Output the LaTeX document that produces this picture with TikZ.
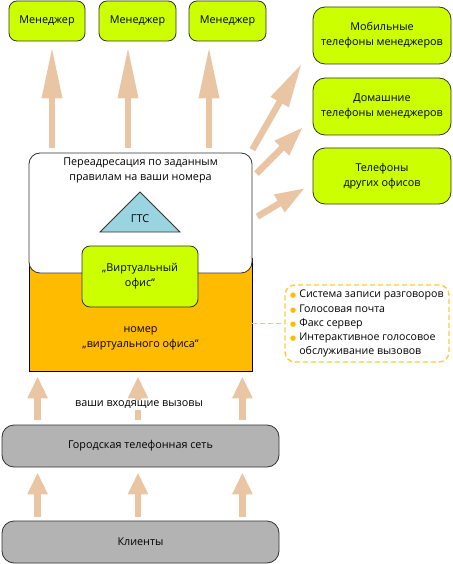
\documentclass[tikz,border=0pt]{standalone}
\usepackage{fontspec}
\setmainfont{Open Sans}
\newfontfamily\symfont{DejaVu Sans}
\usetikzlibrary{arrows.meta,calc}

\definecolor{limec}{RGB}{204,255,0}
\definecolor{orangec}{RGB}{255,187,0}
\definecolor{bluec}{RGB}{153,212,224}
\definecolor{grayc}{RGB}{179,179,179}
\definecolor{arrowc}{RGB}{234,197,163}
\definecolor{dashc}{RGB}{255,204,51}

\newcommand{\orangedot}{\textcolor{orangec}{\symfont\fontsize{7}{7}\selectfont ●}}

\tikzset{
	box/.style={draw=black!80, line width=0.8pt, rounded corners=8pt, align=center, inner sep=0pt},
	limebox/.style={box, fill=limec},
	graybox/.style={box, fill=grayc, rounded corners=12pt, minimum width=277pt, minimum height=42pt},
	bigarrow/.style={draw=arrowc, line width=6.5pt, -{Triangle[length=#1, width=19pt]}},
	dashline/.style={draw=dashc, line width=1.4pt, dash pattern=on 5pt off 3pt},
	every node/.style={font=\fontsize{10.8}{15}\selectfont}
}

\begin{document}
\begin{tikzpicture}[x=1pt, y=-1pt]
	\useasboundingbox (0,0) rectangle (452,564);

	% Менеджеры
	\node[limebox, minimum width=76pt, minimum height=40pt] (mgr1) at (47,21) {Менеджер};
	\node[limebox, minimum width=77pt, minimum height=40pt] (mgr2) at (137.5,21) {Менеджер};
	\node[limebox, minimum width=77pt, minimum height=40pt] (mgr3) at (227.5,21) {Менеджер};

	% Телефоны справа
	\node[limebox, rounded corners=12pt, minimum width=138pt, minimum height=57pt] (mob) at (382,35.5) {Мобильные\\телефоны менеджеров};
	\node[limebox, rounded corners=12pt, minimum width=138pt, minimum height=57pt] (home) at (382,106.5) {Домашние\\телефоны менеджеров};
	\node[limebox, rounded corners=12pt, minimum width=138pt, minimum height=56pt] (other) at (382,176) {Телефоны\\других офисов};

	% Виртуальный офис
	\node[draw=black, line width=0.8pt, fill=orangec, minimum width=223pt, minimum height=113pt] (vnum) at (140.5,314.5) {};
	\node[box, fill=white, rounded corners=11pt, minimum width=223pt, minimum height=120pt] (fwd) at (140.5,213) {};
	\node[align=center] (fwdtext) at (140.5,170.5) {Переадресация по заданным\\правилам на ваши номера};
	\draw[draw=black!80, line width=0.8pt, fill=bluec] (100,232) -- (140,192) -- (180,232) -- cycle;
	\node (gts) at (140,219) {ГТС};
	\node[limebox, minimum width=116pt, minimum height=61pt] (vo) at (140,276.5) {„Виртуальный\\офис“};
	\node[align=center] (vnumtext) at (140.5,338) {номер\\„виртуального офиса“};

	% Дополнительные услуги
	\node[dashline, rounded corners=10pt, minimum width=164pt, minimum height=77pt, inner sep=0pt] (extras) at (367,323.5) {};
	\node[anchor=west, inner sep=0pt, font=\fontsize{10.6}{14.3}\selectfont] (extratext) at (290,323.5)
		{\begin{tabular}{@{}l@{\hspace{3pt}}l@{}}
			\orangedot & Система записи разговоров\\
			\orangedot & Голосовая почта\\
			\orangedot & Факс сервер\\
			\orangedot & Интерактивное голосовое\\
			& обслуживание вызовов
		\end{tabular}};
	\draw[dashline] (vnum.east |- extras.west) -- (extras.west);

	% Сеть и клиенты
	\node[graybox] (city) at (140.5,446) {Городская телефонная сеть};
	\node[graybox] (clients) at (140.5,542) {Клиенты};

	% Стрелки вверх
	\draw[bigarrow=52pt, shorten <=5pt, shorten >=5pt] ([xshift=5pt]mgr1.south |- fwd.north) -- ([xshift=5pt]mgr1.south);
	\draw[bigarrow=52pt, shorten <=5pt, shorten >=5pt] ([xshift=-9.5pt]mgr2.south |- fwd.north) -- ([xshift=-9.5pt]mgr2.south);
	\draw[bigarrow=52pt, shorten <=5pt, shorten >=5pt] ([xshift=-18.5pt]mgr3.south |- fwd.north) -- ([xshift=-18.5pt]mgr3.south);

	\draw[bigarrow=22pt, shorten <=5pt, shorten >=5pt] ([xshift=36pt]city.north west) -- ([xshift=36pt]city.north west |- vnum.south);
	\draw[bigarrow=22pt, shorten <=5pt, shorten >=5pt] ([xshift=-2.5pt]city.north) -- ([xshift=-2.5pt]city.north |- vnum.south);
	\draw[bigarrow=22pt, shorten <=5pt, shorten >=5pt] ([xshift=-37pt]city.north east) -- ([xshift=-37pt]city.north east |- vnum.south);

	\draw[bigarrow=22pt, shorten <=4pt, shorten >=5pt] ([xshift=36pt]clients.north west) -- ([xshift=36pt]clients.north west |- city.south);
	\draw[bigarrow=22pt, shorten <=4pt, shorten >=5pt] ([xshift=-2.5pt]clients.north) -- ([xshift=-2.5pt]clients.north |- city.south);
	\draw[bigarrow=22pt, shorten <=4pt, shorten >=5pt] ([xshift=-37pt]clients.north east) -- ([xshift=-37pt]clients.north east |- city.south);

	\node[fill=white, inner sep=1pt] (calls) at (139,405) {ваши входящие вызовы};

	% Стрелки вправо
	\coordinate (tipmob) at (302,63);
	\coordinate (tiphome) at (303,127);
	\coordinate (tipother) at (305,188);
	\draw[bigarrow=45pt] ($(fwd.north east)+(0,-3)$) -- (tipmob);
	\draw[bigarrow=30pt] ($(fwd.north east)+(4,21)$) -- (tiphome);
	\draw[bigarrow=30pt] ($(fwd.north east)+(5,64)$) -- (tipother);
\end{tikzpicture}
\end{document}
